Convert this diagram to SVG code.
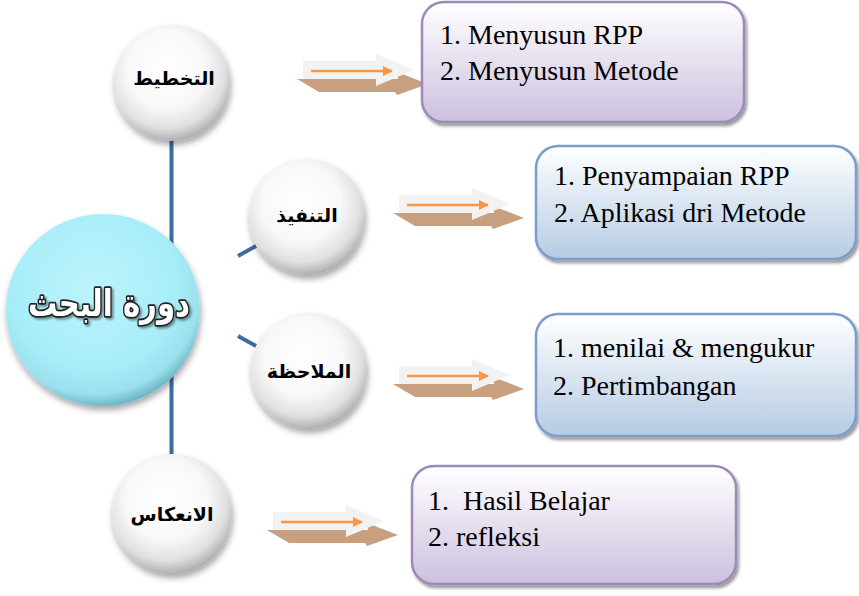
<svg xmlns="http://www.w3.org/2000/svg" width="859" height="596" viewBox="0 0 859 596">
<defs>
<radialGradient id="gWhite" cx="45%" cy="38%" r="62%">
<stop offset="0" stop-color="#FFFFFF"/>
<stop offset="0.55" stop-color="#F8F8F8"/>
<stop offset="0.82" stop-color="#E0E0E0"/>
<stop offset="1" stop-color="#B0B0B0"/>
</radialGradient>
<radialGradient id="gCyan" cx="45%" cy="38%" r="62%">
<stop offset="0" stop-color="#BDF4FC"/>
<stop offset="0.7" stop-color="#A6EDF8"/>
<stop offset="0.9" stop-color="#9BE0EC"/>
<stop offset="1" stop-color="#6FB9C6"/>
</radialGradient>
<linearGradient id="gPurple" x1="0" y1="0" x2="0" y2="1">
<stop offset="0" stop-color="#FFFFFF"/>
<stop offset="1" stop-color="#CDC0DE"/>
</linearGradient>
<linearGradient id="gBlue" x1="0" y1="0" x2="0" y2="1">
<stop offset="0" stop-color="#FFFFFF"/>
<stop offset="1" stop-color="#B6CBE4"/>
</linearGradient>
<filter id="sh" x="-20%" y="-20%" width="140%" height="150%">
<feDropShadow dx="1" dy="4" stdDeviation="3" flood-color="#000" flood-opacity="0.35"/>
</filter>
<filter id="bsh" x="-10%" y="-10%" width="120%" height="130%">
<feDropShadow dx="2" dy="3" stdDeviation="1.5" flood-color="#000" flood-opacity="0.4"/>
</filter>
<filter id="tsh" x="-10%" y="-30%" width="120%" height="160%">
<feDropShadow dx="2" dy="2" stdDeviation="1" flood-color="#000" flood-opacity="0.4"/>
</filter>
<marker id="oh" viewBox="0 0 10 10" refX="9" refY="5" markerWidth="5" markerHeight="4" orient="auto" markerUnits="strokeWidth">
<path d="M0,0 L10,5 L0,10 z" fill="#F79646"/>
</marker>
<g id="arrow">
<polygon points="-6,9 95,9 94,2 125,14 94,25 92,22 16,22" fill="#C9A07F"/>
<polygon points="0,-9 73,-9 73,-16 111,0 73,16 73,9 0,9" fill="#F2F2F2"/>
<line x1="8" y1="1" x2="89" y2="1" stroke="#F79646" stroke-width="2.5" marker-end="url(#oh)"/>
</g>
</defs>
<style>
.ar{font-weight:bold;font-size:19px;fill:#000;text-anchor:middle}
.tx{font-size:28px;fill:#000}
.conn{stroke:#3E6C9F;stroke-width:4;fill:none}
.bp{fill:url(#gPurple);stroke:#9C8BB8;stroke-width:2.5}
.bb{fill:url(#gBlue);stroke:#7B9DC9;stroke-width:2.5}
</style>
<rect width="859" height="596" fill="#FFFFFF"/>
<g id="connectors">
<line class="conn" x1="171.5" y1="135" x2="171.5" y2="462"/>
<line class="conn" x1="238" y1="256" x2="256" y2="246"/>
<line class="conn" x1="238" y1="336" x2="256" y2="346"/>
<use href="#arrow" x="303" y="70"/>
<use href="#arrow" x="399" y="204"/>
<use href="#arrow" x="399" y="375"/>
<use href="#arrow" x="273" y="521"/>
</g>
<g id="center">
<ellipse cx="103" cy="310" rx="97" ry="96" fill="url(#gCyan)" filter="url(#sh)"/>
<text x="109" y="316" font-family="DejaVu Sans, sans-serif" font-weight="bold" font-size="37" text-anchor="middle" textLength="162" lengthAdjust="spacingAndGlyphs" fill="#FFFFFF" stroke="#222" stroke-width="3.5" paint-order="stroke" stroke-linejoin="round" filter="url(#tsh)">دورة البحث</text>
</g>
<g id="n1" font-family="DejaVu Sans, sans-serif">
<circle cx="172" cy="83" r="58" fill="url(#gWhite)" filter="url(#sh)"/>
<text class="ar" x="174" y="85">التخطيط</text>
</g>
<g id="n2" font-family="DejaVu Sans, sans-serif">
<circle cx="307" cy="217" r="58" fill="url(#gWhite)" filter="url(#sh)"/>
<text class="ar" x="307" y="222">التنفيذ</text>
</g>
<g id="n3" font-family="DejaVu Sans, sans-serif">
<circle cx="309" cy="371" r="58" fill="url(#gWhite)" filter="url(#sh)"/>
<text class="ar" x="309" y="378">الملاحظة</text>
</g>
<g id="n4" font-family="DejaVu Sans, sans-serif">
<circle cx="172" cy="514" r="60" fill="url(#gWhite)" filter="url(#sh)"/>
<text class="ar" x="172" y="521">الانعكاس</text>
</g>
<g id="b1" font-family="Liberation Serif, serif">
<rect class="bp" x="422" y="2" width="322" height="120" rx="22" filter="url(#bsh)"/>
<text class="tx" x="440" y="44">1. Menyusun RPP</text>
<text class="tx" x="440" y="80">2. Menyusun Metode</text>
</g>
<g id="b2" font-family="Liberation Serif, serif">
<rect class="bb" x="536" y="146" width="320" height="113" rx="22" filter="url(#bsh)"/>
<text class="tx" x="554" y="185">1. Penyampaian RPP</text>
<text class="tx" x="554" y="222">2. Aplikasi dri Metode</text>
</g>
<g id="b3" font-family="Liberation Serif, serif">
<rect class="bb" x="536" y="314" width="320" height="122" rx="22" filter="url(#bsh)"/>
<text class="tx" x="553" y="357">1. menilai &amp; mengukur</text>
<text class="tx" x="553" y="395">2. Pertimbangan</text>
</g>
<g id="b4" font-family="Liberation Serif, serif">
<rect class="bp" x="412" y="466" width="324" height="118" rx="22" filter="url(#bsh)"/>
<text class="tx" x="428" y="510" xml:space="preserve">1.  Hasil Belajar</text>
<text class="tx" x="428" y="546">2. refleksi</text>
</g>
</svg>
